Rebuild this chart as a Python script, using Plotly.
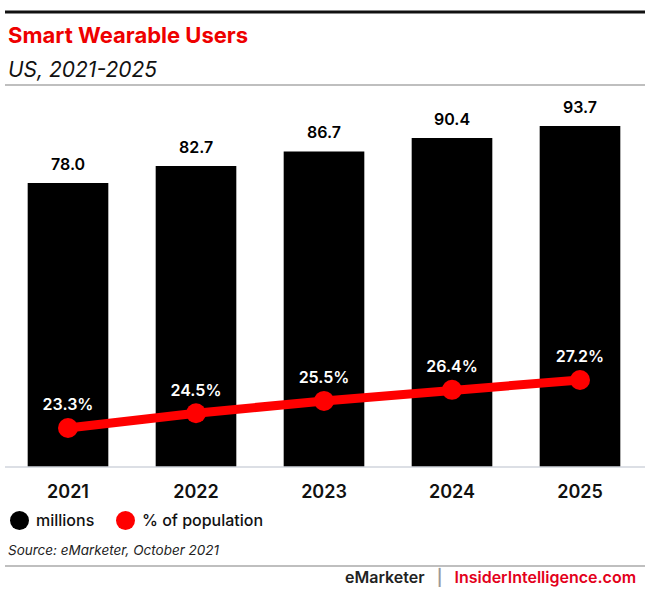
import plotly.graph_objects as go

years = ["2021", "2022", "2023", "2024", "2025"]
millions = [78.0, 82.7, 86.7, 90.4, 93.7]
pct_population = [23.3, 24.5, 25.5, 26.4, 27.2]

FONT = "Inter"
RED = "#ff0000"

W, H = 655, 592
L, R, T, B = 4, 11, 103, 125
PW, PH = W - L - R, H - T - B

def px(x):
    return (x - L) / PW

def py(y):
    return (H - B - y) / PH

fig = go.Figure()
fig.add_trace(go.Bar(
    x=years, y=millions, marker=dict(color="black", line=dict(width=0)),
    showlegend=False, yaxis="y"))
fig.add_trace(go.Scatter(
    x=years, y=pct_population, mode="lines+markers+text",
    line=dict(color=RED, width=9), marker=dict(color=RED, size=20),
    text=[f"{v:.1f}%" for v in pct_population], textposition="top center",
    textfont=dict(family=FONT, size=16, color="white", weight=600),
    showlegend=False, yaxis="y2", cliponaxis=False))

fig.update_layout(
    width=W, height=H, margin=dict(l=L, r=R, t=T, b=B),
    paper_bgcolor="white", plot_bgcolor="white",
    bargap=0.37,
    font=dict(family=FONT, color="#111"),
    xaxis=dict(type="category", categoryorder="array", categoryarray=years,
               showgrid=False, showline=False, zeroline=False, ticks="",
               ticklabelstandoff=12,
               tickfont=dict(family=FONT, size=18, color="#111", weight=600)),
    yaxis=dict(range=[0, 100], visible=False, showgrid=False),
    yaxis2=dict(range=[20.13, 49.7], overlaying="y", visible=False, showgrid=False),
    showlegend=False,
)

shapes = [
    dict(type="line", xref="paper", yref="paper", x0=px(5), x1=px(645), y0=py(12), y1=py(12),
         line=dict(color="#111", width=3)),
    dict(type="line", xref="paper", yref="paper", x0=px(5), x1=px(645), y0=py(85), y1=py(85),
         line=dict(color="#aaaaaa", width=1.5)),
    dict(type="line", xref="paper", yref="paper", x0=px(5), x1=px(645), y0=py(467), y1=py(467),
         line=dict(color="#d0d4dc", width=1.5)),
    dict(type="line", xref="paper", yref="paper", x0=px(5), x1=px(645), y0=py(566), y1=py(566),
         line=dict(color="#aaaaaa", width=1.5)),
    # legend markers
    dict(type="circle", xref="paper", yref="paper", x0=px(10), x1=px(29), y0=py(511), y1=py(530),
         fillcolor="black", line=dict(width=0)),
    dict(type="circle", xref="paper", yref="paper", x0=px(116), x1=px(135), y0=py(511), y1=py(530),
         fillcolor=RED, line=dict(width=0)),
]
fig.update_layout(shapes=shapes)

annotations = [
    dict(text="Smart Wearable Users", x=px(6), y=py(35), xref="paper", yref="paper",
         xanchor="left", yanchor="middle", showarrow=False,
         font=dict(family=FONT, size=22, color="#ee0000", weight=700)),
    dict(text="<i>US, 2021-2025</i>", x=px(6), y=py(69), xref="paper", yref="paper",
         xanchor="left", yanchor="middle", showarrow=False,
         font=dict(family=FONT, size=21, color="#111")),
    dict(text="millions", x=px(34), y=py(520), xref="paper", yref="paper",
         xanchor="left", yanchor="middle", showarrow=False,
         font=dict(family=FONT, size=16, color="#111", weight=500)),
    dict(text="% of population", x=px(140), y=py(520), xref="paper", yref="paper",
         xanchor="left", yanchor="middle", showarrow=False,
         font=dict(family=FONT, size=16, color="#111", weight=500)),
    dict(text="<i>Source: eMarketer, October 2021</i>", x=px(6), y=py(550), xref="paper", yref="paper",
         xanchor="left", yanchor="middle", showarrow=False,
         font=dict(family=FONT, size=13.5, color="#222")),
    dict(text="<span style='color:#222'>eMarketer</span>  <span style='color:#999'> | </span>  InsiderIntelligence.com",
         x=px(638), y=py(577), xref="paper", yref="paper",
         xanchor="right", yanchor="middle", showarrow=False,
         font=dict(family=FONT, size=16, color="#e3001b", weight=600)),
]
# bar value labels, positioned by the data axes
for i, (yr, v) in enumerate(zip(years, millions)):
    annotations.append(dict(text=f"{v:.1f}", x=i, y=v, xref="x", yref="y",
                            xanchor="center", yanchor="bottom", yshift=7, showarrow=False,
                            font=dict(family=FONT, size=16, color="black", weight=600)))
fig.update_layout(annotations=annotations)

fig.write_html("out.html")
